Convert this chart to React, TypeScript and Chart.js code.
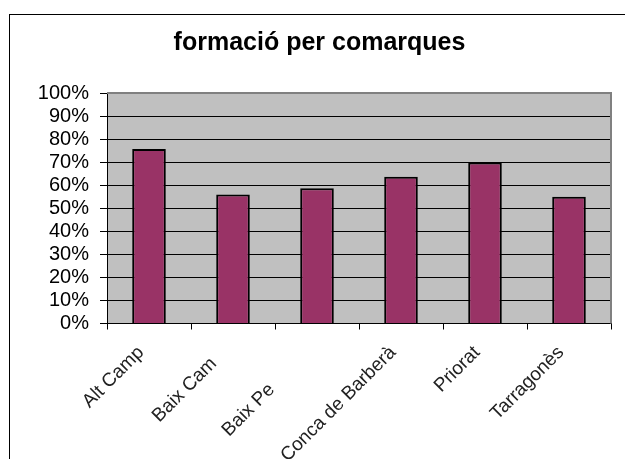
import React, { useEffect, useRef } from "react";
import { Chart, registerables } from "chart.js";

Chart.register(...registerables);

const title = "formació per comarques";
const categories = ["Alt Camp", "Baix Cam   ", "Baix Pe          ", "Conca de Barberà", "Priorat", "Tarragonès"];
const values = [0.757, 0.56, 0.587, 0.637, 0.698, 0.55];
const yTicks = [0, 0.1, 0.2, 0.3, 0.4, 0.5, 0.6, 0.7, 0.8, 0.9, 1.0];

const FONT = "'Liberation Sans', Arial, sans-serif";

const plotBg = {
  id: "plotBg",
  beforeDraw(chart: any) {
    const { ctx, chartArea: a } = chart;
    ctx.save();
    ctx.fillStyle = "#C0C0C0";
    ctx.fillRect(a.left, a.top, a.right - a.left, a.bottom - a.top);
    ctx.restore();
  },
  afterDatasetsDraw(chart: any) {
    const { ctx, chartArea: a } = chart;
    ctx.save();
    ctx.strokeStyle = "#808080";
    ctx.lineWidth = 2;
    ctx.beginPath();
    ctx.moveTo(a.left, a.top);
    ctx.lineTo(a.right, a.top);
    ctx.lineTo(a.right, a.bottom);
    ctx.stroke();
    ctx.restore();
  },
};

export default function App() {
  const ref = useRef<HTMLCanvasElement | null>(null);
  useEffect(() => {
    document.body.style.overflow = "hidden";
    const chart = new Chart(ref.current as HTMLCanvasElement, {
      type: "bar",
      data: {
        labels: categories,
        datasets: [
          {
            data: values,
            backgroundColor: "#993366",
            borderColor: "#000000",
            borderWidth: 2,
            barPercentage: 0.4,
            categoryPercentage: 1.0,
          },
        ],
      },
      options: {
        animation: false,
        responsive: false,
        layout: { padding: { left: 14, right: 0, top: 0, bottom: 0 } },
        plugins: {
          legend: { display: false },
          tooltip: { enabled: false },
          title: {
            display: true,
            text: title,
            color: "#000",
            font: { family: FONT, size: 25, weight: "bold" },
            padding: { top: 28, bottom: 35 },
          },
        },
        scales: {
          x: {
            grid: {
              offset: true,
              drawOnChartArea: false,
              drawTicks: true,
              tickLength: 6,
              color: "#000",
            },
            border: { display: true, color: "#000", width: 1 },
            ticks: {
              autoSkip: false,
              minRotation: 45,
              maxRotation: 45,
              labelOffset: -8,
              padding: 12,
              color: "#222",
              font: { family: FONT, size: 19 },
            },
            afterFit: (s: any) => {
              s.height = 135.5;
            },
          },
          y: {
            min: 0,
            max: 1,
            afterBuildTicks: (s: any) => {
              s.ticks = yTicks.map((v) => ({ value: v }));
            },
            grid: {
              color: (c: any) => (c.index === yTicks.length - 1 ? "#808080" : "#000"),
              tickColor: "#000",
              tickLength: 7,
              lineWidth: 1,
            },
            border: { display: true, color: "#000", width: 1 },
            ticks: {
              autoSkip: false,
              stepSize: 0.1,
              padding: 11,
              color: "#000",
              font: { family: FONT, size: 20 },
              callback: (v: any) => Math.round(Number(v) * 100) + "%",
            },
            afterFit: (s: any) => {
              s.width = 93;
            },
          },
          y2: {
            type: "linear",
            position: "right",
            display: true,
            grid: { display: false },
            border: { display: false },
            ticks: { display: false },
            afterFit: (s: any) => {
              s.width = 14;
            },
          },
        },
      } as any,
      plugins: [plotBg],
    });
    return () => chart.destroy();
  }, []);

  return (
    <>
      <div
        style={{
          position: "absolute",
          left: 9,
          top: 14,
          width: 700,
          height: 500,
          borderTop: "1px solid #000",
          borderLeft: "1px solid #000",
        }}
      />
      <canvas
        ref={ref}
        width={625}
        height={459}
        style={{ position: "absolute", left: 0, top: 0, width: 625, height: 459 }}
      />
    </>
  );
}
